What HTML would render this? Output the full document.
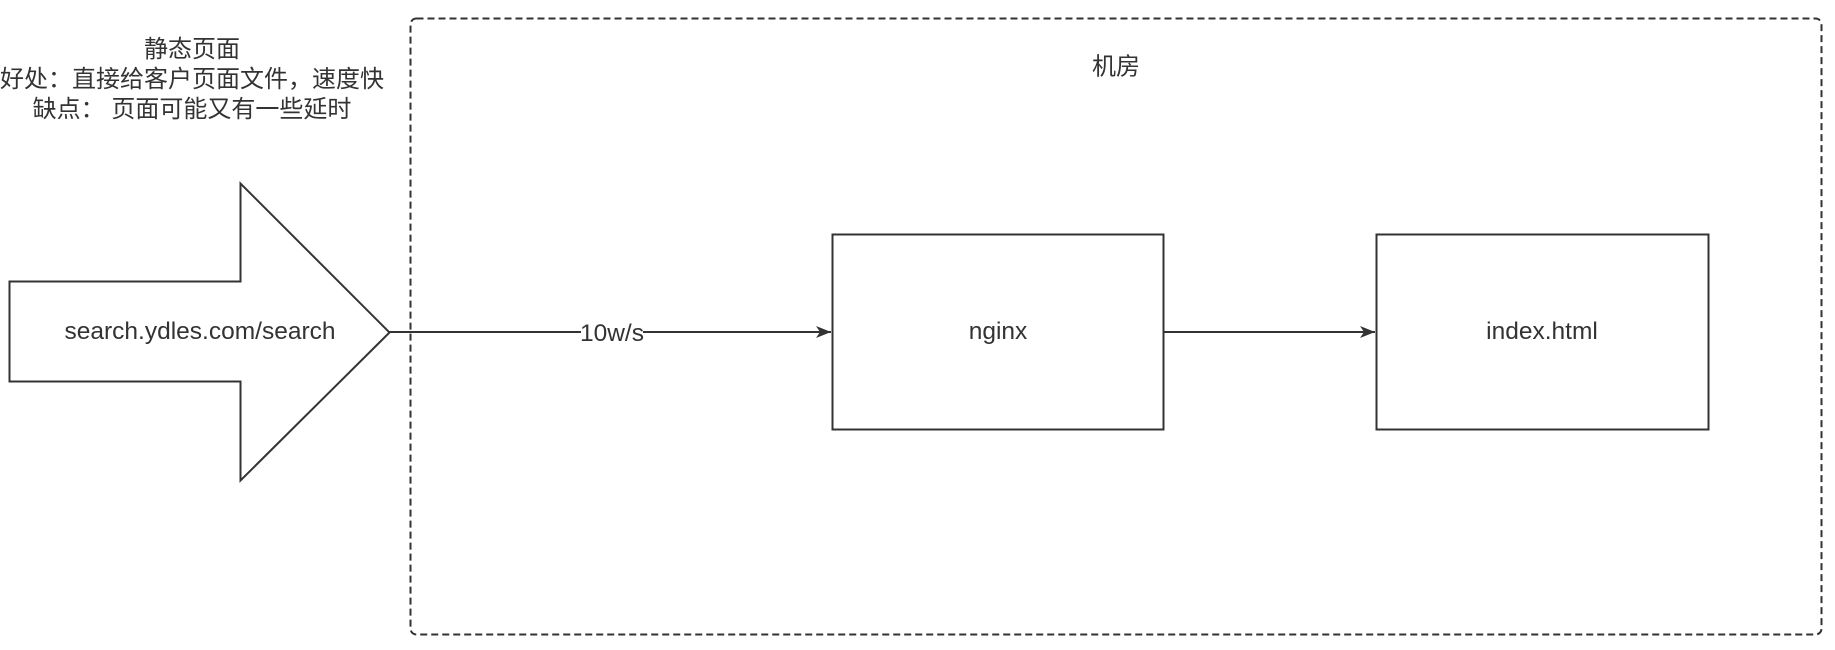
<!DOCTYPE html>
<html><head><meta charset="utf-8"><style>
html,body{margin:0;padding:0;background:#fff;}
body{width:1835px;height:650px;position:relative;overflow:hidden;font-family:"Liberation Sans","Noto Sans CJK SC",sans-serif;color:#333;}
.t{position:absolute;white-space:nowrap;transform:translate(-50%,-50%);}
</style></head><body>
<svg width="1835" height="650" style="position:absolute;left:0;top:0">
<defs><marker id="a" markerWidth="16" markerHeight="14" refX="15" refY="7" orient="auto" markerUnits="userSpaceOnUse"><path d="M0,1 L15,7 L0,13 L4,7 Z" fill="#333"/></marker></defs>
<rect x="410.5" y="18.5" width="1411" height="616" rx="6" fill="none" stroke="#333" stroke-width="2" stroke-dasharray="7,4"/>
<polygon points="9.5,281.5 240.5,281.5 240.5,183.5 389.5,332.5 240.5,480.5 240.5,381.5 9.5,381.5" fill="#fff" stroke="#333" stroke-width="2"/>
<rect x="832.5" y="234.5" width="331" height="195" fill="#fff" stroke="#333" stroke-width="2"/>
<rect x="1376.5" y="234.5" width="332" height="195" fill="#fff" stroke="#333" stroke-width="2"/>
<line x1="389" y1="332" x2="831" y2="332" stroke="#333" stroke-width="2" marker-end="url(#a)"/>
<line x1="1164" y1="332" x2="1375" y2="332" stroke="#333" stroke-width="2" marker-end="url(#a)"/>
<rect x="581" y="318" width="62" height="28" fill="#fff"/>
</svg>
<div class="t" style="left:192px;top:80px;font-size:24px;line-height:30px;text-align:center">静态页面<br>好处：直接给客户页面文件，速度快<br>缺点： 页面可能又有一些延时</div>
<div class="t" style="left:1116px;top:64px;font-size:24px">机房</div>
<div class="t" style="left:200px;top:332px;font-size:24.5px">search.ydles.com/search</div>
<div class="t" style="left:612px;top:334px;font-size:24.5px">10w/s</div>
<div class="t" style="left:998px;top:332px;font-size:24.5px">nginx</div>
<div class="t" style="left:1542px;top:332px;font-size:24.5px">index.html</div>
</body></html>
